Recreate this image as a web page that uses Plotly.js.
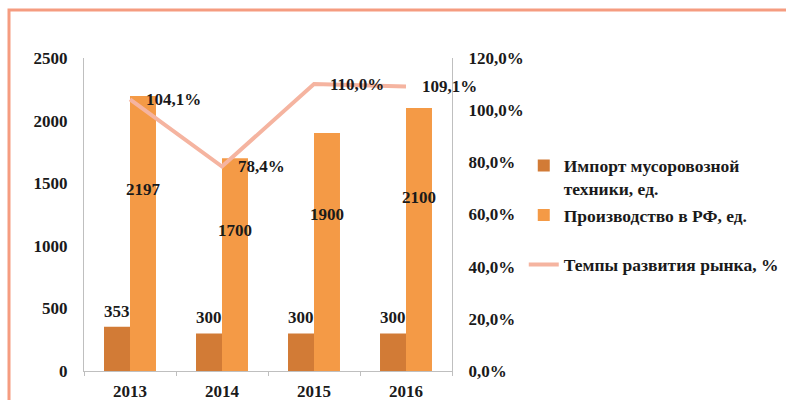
<!DOCTYPE html>
<html>
<head>
<meta charset="utf-8">
<script src="https://cdn.plot.ly/plotly-3.0.1.min.js"></script>
<style>
html,body{margin:0;padding:0;background:#ffffff;}
#chart{width:786px;height:400px;}
</style>
</head>
<body>
<div id="chart"></div>
<script>
var years = ["2013", "2014", "2015", "2016"];
var importUnits = [353, 300, 300, 300];
var productionUnits = [2197, 1700, 1900, 2100];
var marketGrowth = [1.041, 0.784, 1.100, 1.091];
var seriesNames = ["Импорт мусоровозной<br>техники, ед.", "Производство в РФ, ед.<br> ", "Темпы развития рынка, %"];

var FONT = "Liberation Serif, Times New Roman, serif";
var txtFont = {family: FONT, size: 17, color: "#1a1a1a", weight: 700};

var traces = [
  {type: "bar", x: years, y: importUnits, name: seriesNames[0], marker: {color: "#D27B36"}, legendgroup: "a"},
  {type: "bar", x: years, y: productionUnits, name: seriesNames[1], marker: {color: "#F49A46"}, legendgroup: "b"},
  {type: "scatter", mode: "lines", x: years, y: marketGrowth, yaxis: "y2", name: seriesNames[2],
   line: {color: "#F5B4A0", width: 4}, legendgroup: "c"}
];

var annotations = [];
years.forEach(function (yr, i) {
  annotations.push({x: i, y: importUnits[i], xref: "x", yref: "y", text: String(importUnits[i]),
    showarrow: false, xshift: -13, yshift: 4, yanchor: "bottom", font: txtFont});
  annotations.push({x: i, y: productionUnits[i] * 0.66, xref: "x", yref: "y", text: String(productionUnits[i]),
    showarrow: false, xshift: 13, yanchor: "middle", font: txtFont});
  annotations.push({x: i, y: marketGrowth[i], xref: "x", yref: "y2",
    text: (marketGrowth[i] * 100).toFixed(1).replace(".", ",") + "%",
    showarrow: false, xshift: 14, xanchor: "left", yanchor: "middle", font: txtFont});
});

var layout = {
  width: 786, height: 400,
  margin: {l: 84, r: 334, t: 58, b: 29, autoexpand: false},
  paper_bgcolor: "#ffffff", plot_bgcolor: "rgba(0,0,0,0)",
  separators: ", ",
  font: txtFont,
  barmode: "group", bargap: 0.435, bargroupgap: 0,
  showlegend: true,
  legend: {x: 1.195, xanchor: "left", y: 0.714, yanchor: "top", valign: "top",
           font: {family: FONT, size: 17.5, color: "#1a1a1a", weight: 700},
           tracegroupgap: 1, bgcolor: "rgba(0,0,0,0)"},
  xaxis: {type: "category", categoryorder: "array", categoryarray: years, range: [-0.5, 3.5],
          showline: true, linecolor: "#BFBFBF", linewidth: 1,
          ticks: "outside", tickson: "boundaries", ticklen: 4, tickcolor: "#BFBFBF",
          showgrid: false, zeroline: false, tickfont: txtFont, tickangle: 0, ticklabelstandoff: 5},
  yaxis: {range: [0, 2500], dtick: 500, showline: true, linecolor: "#BFBFBF", linewidth: 1,
          showgrid: false, zeroline: false, ticks: "", ticklabelstandoff: 12, tickfont: txtFont},
  yaxis2: {range: [0, 1.2], dtick: 0.2, tickformat: ".1%", overlaying: "y", side: "right",
           showline: true, linecolor: "#BFBFBF", linewidth: 1, showgrid: false, zeroline: false,
           ticks: "", ticklabelstandoff: 12, tickfont: txtFont},
  annotations: annotations,
  shapes: [{type: "rect", xref: "paper", yref: "paper", x0: -0.2038, x1: 2.2, y0: -0.3, y1: 1.1534,
            line: {color: "#F59C80", width: 3}, fillcolor: "rgba(0,0,0,0)", layer: "below"}]
};

Plotly.newPlot("chart", traces, layout, {displayModeBar: false, staticPlot: true});
</script>
</body>
</html>
